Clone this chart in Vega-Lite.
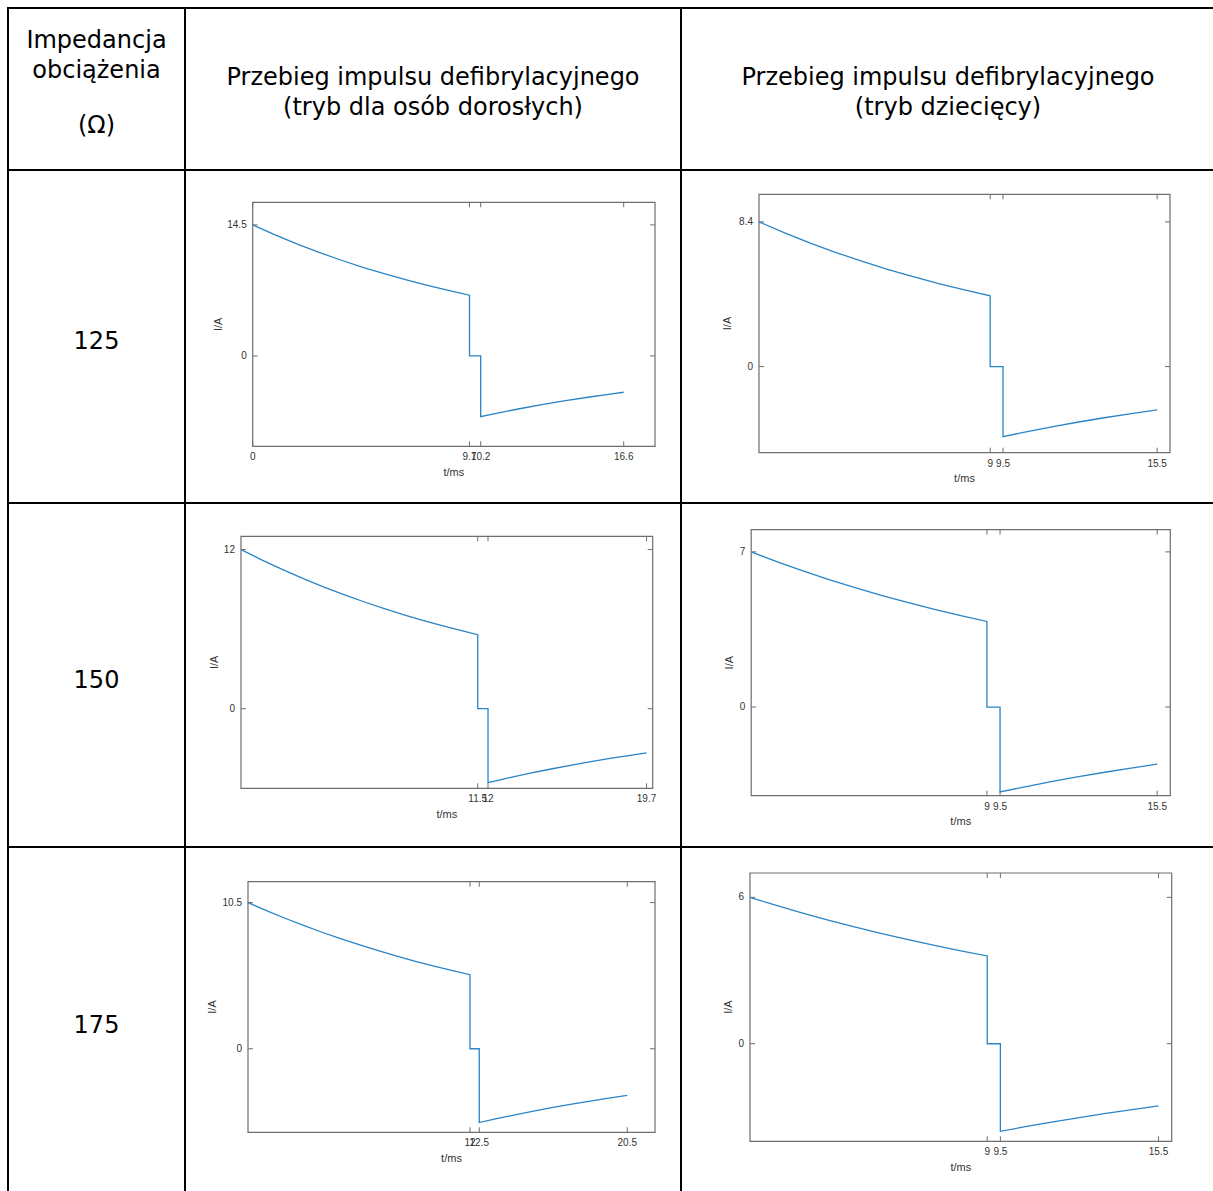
{
  "$schema": "https://vega.github.io/schema/vega-lite/v6.json",
  "padding": {"left": 7, "top": 7, "right": 0, "bottom": 0},
  "background": "white",
  "columns": 3,
  "spacing": 0,
  "bounds": "flush",
  "align": "each",
  "config": {
    "view": {"stroke": "#000000", "strokeWidth": 2},
    "text": {"font": "DejaVu Sans", "color": "#000000"}
  },
  "datasets": {
    "labels": [
      {"id": "h0a", "txt": "Impedancja"},
      {"id": "h0b", "txt": "obciążenia"},
      {"id": "h0c", "txt": "(Ω)"},
      {"id": "h1a", "txt": "Przebieg impulsu defibrylacyjnego"},
      {"id": "h1b", "txt": "(tryb dla osób dorosłych)"},
      {"id": "h2a", "txt": "Przebieg impulsu defibrylacyjnego"},
      {"id": "h2b", "txt": "(tryb dziecięcy)"},
      {"id": "r1", "txt": "125"},
      {"id": "r2", "txt": "150"},
      {"id": "r3", "txt": "175"},
      {"id": "xt", "txt": "t/ms"},
      {"id": "yt", "txt": "I/A"}
    ],
    "frames": [
      {"c": "a125", "x0": 0, "x1": 18, "y0": -10, "y1": 17},
      {"c": "d125", "x0": 0, "x1": 16, "y0": -5, "y1": 10},
      {"c": "a150", "x0": 0, "x1": 20, "y0": -6, "y1": 13},
      {"c": "d150", "x0": 0, "x1": 16, "y0": -4, "y1": 8},
      {"c": "a175", "x0": 0, "x1": 22, "y0": -6, "y1": 12},
      {"c": "d175", "x0": 0, "x1": 16, "y0": -4, "y1": 7}
    ],
    "ticks": [
      {"c": "a125", "ax": "x", "v": 0}, {"c": "a125", "ax": "x", "v": 9.7}, {"c": "a125", "ax": "x", "v": 10.2}, {"c": "a125", "ax": "x", "v": 16.6},
      {"c": "a125", "ax": "y", "v": 0}, {"c": "a125", "ax": "y", "v": 14.5},
      {"c": "d125", "ax": "x", "v": 9}, {"c": "d125", "ax": "x", "v": 9.5}, {"c": "d125", "ax": "x", "v": 15.5},
      {"c": "d125", "ax": "y", "v": 0}, {"c": "d125", "ax": "y", "v": 8.4},
      {"c": "a150", "ax": "x", "v": 11.5}, {"c": "a150", "ax": "x", "v": 12}, {"c": "a150", "ax": "x", "v": 19.7},
      {"c": "a150", "ax": "y", "v": 0}, {"c": "a150", "ax": "y", "v": 12},
      {"c": "d150", "ax": "x", "v": 9}, {"c": "d150", "ax": "x", "v": 9.5}, {"c": "d150", "ax": "x", "v": 15.5},
      {"c": "d150", "ax": "y", "v": 0}, {"c": "d150", "ax": "y", "v": 7},
      {"c": "a175", "ax": "x", "v": 12}, {"c": "a175", "ax": "x", "v": 12.5}, {"c": "a175", "ax": "x", "v": 20.5},
      {"c": "a175", "ax": "y", "v": 0}, {"c": "a175", "ax": "y", "v": 10.5},
      {"c": "d175", "ax": "x", "v": 9}, {"c": "d175", "ax": "x", "v": 9.5}, {"c": "d175", "ax": "x", "v": 15.5},
      {"c": "d175", "ax": "y", "v": 0}, {"c": "d175", "ax": "y", "v": 6}
    ],
    "wave": [
      {"c": "a125", "t": 0, "i": 14.5}, {"c": "a125", "t": 1, "i": 13.395}, {"c": "a125", "t": 2, "i": 12.374}, {"c": "a125", "t": 3, "i": 11.431}, {"c": "a125", "t": 4, "i": 10.559}, {"c": "a125", "t": 5, "i": 9.754}, {"c": "a125", "t": 6, "i": 9.011}, {"c": "a125", "t": 7, "i": 8.324}, {"c": "a125", "t": 8, "i": 7.689}, {"c": "a125", "t": 9, "i": 7.103}, {"c": "a125", "t": 9.7, "i": 6.72}, {"c": "a125", "t": 9.7, "i": 0}, {"c": "a125", "t": 10.2, "i": 0}, {"c": "a125", "t": 10.2, "i": -6.72}, {"c": "a125", "t": 11, "i": -6.302}, {"c": "a125", "t": 12, "i": -5.816}, {"c": "a125", "t": 13, "i": -5.367}, {"c": "a125", "t": 14, "i": -4.953}, {"c": "a125", "t": 15, "i": -4.571}, {"c": "a125", "t": 16, "i": -4.218}, {"c": "a125", "t": 16.6, "i": -4.02},
      {"c": "d125", "t": 0, "i": 8.4}, {"c": "d125", "t": 1, "i": 7.759}, {"c": "d125", "t": 2, "i": 7.167}, {"c": "d125", "t": 3, "i": 6.62}, {"c": "d125", "t": 4, "i": 6.115}, {"c": "d125", "t": 5, "i": 5.648}, {"c": "d125", "t": 6, "i": 5.217}, {"c": "d125", "t": 7, "i": 4.819}, {"c": "d125", "t": 8, "i": 4.451}, {"c": "d125", "t": 9, "i": 4.11}, {"c": "d125", "t": 9, "i": 0}, {"c": "d125", "t": 9.5, "i": 0}, {"c": "d125", "t": 9.5, "i": -4.07}, {"c": "d125", "t": 10.5, "i": -3.757}, {"c": "d125", "t": 11.5, "i": -3.469}, {"c": "d125", "t": 12.5, "i": -3.203}, {"c": "d125", "t": 13.5, "i": -2.957}, {"c": "d125", "t": 14.5, "i": -2.73}, {"c": "d125", "t": 15.5, "i": -2.52},
      {"c": "a150", "t": 0, "i": 12}, {"c": "a150", "t": 1, "i": 11.227}, {"c": "a150", "t": 2, "i": 10.504}, {"c": "a150", "t": 3, "i": 9.827}, {"c": "a150", "t": 4, "i": 9.194}, {"c": "a150", "t": 5, "i": 8.602}, {"c": "a150", "t": 6, "i": 8.047}, {"c": "a150", "t": 7, "i": 7.529}, {"c": "a150", "t": 8, "i": 7.044}, {"c": "a150", "t": 9, "i": 6.59}, {"c": "a150", "t": 10, "i": 6.165}, {"c": "a150", "t": 11, "i": 5.768}, {"c": "a150", "t": 11.5, "i": 5.58}, {"c": "a150", "t": 11.5, "i": 0}, {"c": "a150", "t": 12, "i": 0}, {"c": "a150", "t": 12, "i": -5.58}, {"c": "a150", "t": 13, "i": -5.218}, {"c": "a150", "t": 14, "i": -4.88}, {"c": "a150", "t": 15, "i": -4.564}, {"c": "a150", "t": 16, "i": -4.268}, {"c": "a150", "t": 17, "i": -3.992}, {"c": "a150", "t": 18, "i": -3.733}, {"c": "a150", "t": 19, "i": -3.491}, {"c": "a150", "t": 19.7, "i": -3.33},
      {"c": "d150", "t": 0, "i": 7}, {"c": "d150", "t": 1, "i": 6.552}, {"c": "d150", "t": 2, "i": 6.133}, {"c": "d150", "t": 3, "i": 5.741}, {"c": "d150", "t": 4, "i": 5.374}, {"c": "d150", "t": 5, "i": 5.03}, {"c": "d150", "t": 6, "i": 4.709}, {"c": "d150", "t": 7, "i": 4.407}, {"c": "d150", "t": 8, "i": 4.126}, {"c": "d150", "t": 9, "i": 3.86}, {"c": "d150", "t": 9, "i": 0}, {"c": "d150", "t": 9.5, "i": 0}, {"c": "d150", "t": 9.5, "i": -3.83}, {"c": "d150", "t": 10.5, "i": -3.586}, {"c": "d150", "t": 11.5, "i": -3.357}, {"c": "d150", "t": 12.5, "i": -3.143}, {"c": "d150", "t": 13.5, "i": -2.942}, {"c": "d150", "t": 14.5, "i": -2.755}, {"c": "d150", "t": 15.5, "i": -2.58},
      {"c": "a175", "t": 0, "i": 10.5}, {"c": "a175", "t": 1, "i": 9.921}, {"c": "a175", "t": 2, "i": 9.374}, {"c": "a175", "t": 3, "i": 8.858}, {"c": "a175", "t": 4, "i": 8.369}, {"c": "a175", "t": 5, "i": 7.908}, {"c": "a175", "t": 6, "i": 7.472}, {"c": "a175", "t": 7, "i": 7.06}, {"c": "a175", "t": 8, "i": 6.671}, {"c": "a175", "t": 9, "i": 6.303}, {"c": "a175", "t": 10, "i": 5.956}, {"c": "a175", "t": 11, "i": 5.628}, {"c": "a175", "t": 12, "i": 5.32}, {"c": "a175", "t": 12, "i": 0}, {"c": "a175", "t": 12.5, "i": 0}, {"c": "a175", "t": 12.5, "i": -5.3}, {"c": "a175", "t": 13.5, "i": -5.005}, {"c": "a175", "t": 14.5, "i": -4.726}, {"c": "a175", "t": 15.5, "i": -4.463}, {"c": "a175", "t": 16.5, "i": -4.215}, {"c": "a175", "t": 17.5, "i": -3.98}, {"c": "a175", "t": 18.5, "i": -3.758}, {"c": "a175", "t": 19.5, "i": -3.549}, {"c": "a175", "t": 20.5, "i": -3.35},
      {"c": "d175", "t": 0, "i": 6}, {"c": "d175", "t": 1, "i": 5.669}, {"c": "d175", "t": 2, "i": 5.356}, {"c": "d175", "t": 3, "i": 5.06}, {"c": "d175", "t": 4, "i": 4.78}, {"c": "d175", "t": 5, "i": 4.516}, {"c": "d175", "t": 6, "i": 4.267}, {"c": "d175", "t": 7, "i": 4.031}, {"c": "d175", "t": 8, "i": 3.809}, {"c": "d175", "t": 9, "i": 3.6}, {"c": "d175", "t": 9, "i": 0}, {"c": "d175", "t": 9.5, "i": 0}, {"c": "d175", "t": 9.5, "i": -3.59}, {"c": "d175", "t": 10.5, "i": -3.391}, {"c": "d175", "t": 11.5, "i": -3.203}, {"c": "d175", "t": 12.5, "i": -3.026}, {"c": "d175", "t": 13.5, "i": -2.858}, {"c": "d175", "t": 14.5, "i": -2.7}, {"c": "d175", "t": 15.5, "i": -2.55}
    ]
  },
  "concat": [
    {
      "width": 177, "height": 162,
      "data": {"name": "labels"},
      "encoding": {
        "x": {"datum": 0, "type": "quantitative", "scale": {"domain": [-1, 1]}, "axis": null},
        "y": {"datum": 0, "type": "quantitative", "scale": {"domain": [-1, 1]}, "axis": null}
      },
      "layer": [
        {"transform": [{"filter": "datum.id == 'h0a'"}], "mark": {"type": "text", "fontSize": 24, "baseline": "alphabetic", "dy": -41}, "encoding": {"text": {"field": "txt"}}},
        {"transform": [{"filter": "datum.id == 'h0b'"}], "mark": {"type": "text", "fontSize": 24, "baseline": "alphabetic", "dy": -11.5}, "encoding": {"text": {"field": "txt"}}},
        {"transform": [{"filter": "datum.id == 'h0c'"}], "mark": {"type": "text", "fontSize": 24, "baseline": "alphabetic", "dy": 44}, "encoding": {"text": {"field": "txt"}}}
      ]
    },
    {
      "width": 496, "height": 162,
      "data": {"name": "labels"},
      "encoding": {
        "x": {"datum": 0, "type": "quantitative", "scale": {"domain": [-1, 1]}, "axis": null},
        "y": {"datum": 0, "type": "quantitative", "scale": {"domain": [-1, 1]}, "axis": null}
      },
      "layer": [
        {"transform": [{"filter": "datum.id == 'h1a'"}], "mark": {"type": "text", "fontSize": 24, "baseline": "alphabetic", "dy": -4.5}, "encoding": {"text": {"field": "txt"}}},
        {"transform": [{"filter": "datum.id == 'h1b'"}], "mark": {"type": "text", "fontSize": 24, "baseline": "alphabetic", "dy": 26}, "encoding": {"text": {"field": "txt"}}}
      ]
    },
    {
      "width": 534, "height": 162,
      "data": {"name": "labels"},
      "encoding": {
        "x": {"datum": 0, "type": "quantitative", "scale": {"domain": [-1, 1]}, "axis": null},
        "y": {"datum": 0, "type": "quantitative", "scale": {"domain": [-1, 1]}, "axis": null}
      },
      "layer": [
        {"transform": [{"filter": "datum.id == 'h2a'"}], "mark": {"type": "text", "fontSize": 24, "baseline": "alphabetic", "dy": -4.5}, "encoding": {"text": {"field": "txt"}}},
        {"transform": [{"filter": "datum.id == 'h2b'"}], "mark": {"type": "text", "fontSize": 24, "baseline": "alphabetic", "dy": 26}, "encoding": {"text": {"field": "txt"}}}
      ]
    },
    {
      "width": 177, "height": 333,
      "data": {"name": "labels"},
      "transform": [{"filter": "datum.id == 'r1'"}],
      "mark": {"type": "text", "fontSize": 24, "baseline": "alphabetic", "dy": 12.5},
      "encoding": {
        "x": {"datum": 0, "type": "quantitative", "scale": {"domain": [-1, 1]}, "axis": null},
        "y": {"datum": 0, "type": "quantitative", "scale": {"domain": [-1, 1]}, "axis": null},
        "text": {"field": "txt"}
      }
    },
    {
      "width": 496, "height": 333,
      "layer": [
        {"data": {"name": "frames"}, "transform": [{"filter": "datum.c == 'a125'"}], "mark": {"type": "rect", "filled": false, "stroke": "#6e6e6e", "strokeWidth": 1.2}, "encoding": {"x": {"field": "x0", "type": "quantitative", "scale": {"domain": [-3.029, 19.163], "nice": false, "zero": false}, "axis": null}, "x2": {"field": "x1"}, "y": {"field": "y0", "type": "quantitative", "scale": {"domain": [-16.274, 20.574], "nice": false, "zero": false}, "axis": null}, "y2": {"field": "y1"}}},
        {"data": {"name": "ticks"}, "transform": [{"filter": "datum.c == 'a125' && datum.ax == 'x'"}], "mark": {"type": "rule", "stroke": "#6e6e6e", "y2Offset": -5}, "encoding": {"x": {"field": "v", "type": "quantitative", "scale": {"domain": [-3.029, 19.163], "nice": false, "zero": false}, "axis": null}, "y": {"datum": -10, "type": "quantitative", "scale": {"domain": [-16.274, 20.574], "nice": false, "zero": false}, "axis": null}, "y2": {"datum": -10}}},
        {"data": {"name": "ticks"}, "transform": [{"filter": "datum.c == 'a125' && datum.ax == 'x'"}], "mark": {"type": "rule", "stroke": "#6e6e6e", "y2Offset": 5}, "encoding": {"x": {"field": "v", "type": "quantitative", "scale": {"domain": [-3.029, 19.163], "nice": false, "zero": false}, "axis": null}, "y": {"datum": 17, "type": "quantitative", "scale": {"domain": [-16.274, 20.574], "nice": false, "zero": false}, "axis": null}, "y2": {"datum": 17}}},
        {"data": {"name": "ticks"}, "transform": [{"filter": "datum.c == 'a125' && datum.ax == 'y'"}], "mark": {"type": "rule", "stroke": "#6e6e6e", "x2Offset": 5}, "encoding": {"y": {"field": "v", "type": "quantitative", "scale": {"domain": [-16.274, 20.574], "nice": false, "zero": false}, "axis": null}, "x": {"datum": 0, "type": "quantitative", "scale": {"domain": [-3.029, 19.163], "nice": false, "zero": false}, "axis": null}, "x2": {"datum": 0}}},
        {"data": {"name": "ticks"}, "transform": [{"filter": "datum.c == 'a125' && datum.ax == 'y'"}], "mark": {"type": "rule", "stroke": "#6e6e6e", "x2Offset": -5}, "encoding": {"y": {"field": "v", "type": "quantitative", "scale": {"domain": [-16.274, 20.574], "nice": false, "zero": false}, "axis": null}, "x": {"datum": 18, "type": "quantitative", "scale": {"domain": [-3.029, 19.163], "nice": false, "zero": false}, "axis": null}, "x2": {"datum": 18}}},
        {"data": {"name": "ticks"}, "transform": [{"filter": "datum.c == 'a125' && datum.ax == 'x'"}], "mark": {"type": "text", "font": "Liberation Sans", "fontSize": 10, "color": "#333333", "baseline": "middle", "yOffset": 11}, "encoding": {"x": {"field": "v", "type": "quantitative", "scale": {"domain": [-3.029, 19.163], "nice": false, "zero": false}, "axis": null}, "y": {"datum": -10, "type": "quantitative", "scale": {"domain": [-16.274, 20.574], "nice": false, "zero": false}, "axis": null}, "text": {"field": "v", "type": "quantitative", "format": "~g"}}},
        {"data": {"name": "ticks"}, "transform": [{"filter": "datum.c == 'a125' && datum.ax == 'y'"}], "mark": {"type": "text", "font": "Liberation Sans", "fontSize": 10, "color": "#333333", "baseline": "middle", "align": "right", "xOffset": -6}, "encoding": {"y": {"field": "v", "type": "quantitative", "scale": {"domain": [-16.274, 20.574], "nice": false, "zero": false}, "axis": null}, "x": {"datum": 0, "type": "quantitative", "scale": {"domain": [-3.029, 19.163], "nice": false, "zero": false}, "axis": null}, "text": {"field": "v", "type": "quantitative", "format": "~g"}}},
        {"data": {"name": "wave"}, "transform": [{"filter": "datum.c == 'a125'"}], "mark": {"type": "line", "color": "#2a84c6", "strokeWidth": 1.3}, "encoding": {"x": {"field": "t", "type": "quantitative", "scale": {"domain": [-3.029, 19.163], "nice": false, "zero": false}, "axis": null}, "y": {"field": "i", "type": "quantitative", "scale": {"domain": [-16.274, 20.574], "nice": false, "zero": false}, "axis": null}, "order": {"value": null}}},
        {"data": {"name": "labels"}, "transform": [{"filter": "datum.id == 'xt'"}], "mark": {"type": "text", "font": "Liberation Sans", "fontSize": 11, "color": "#333333", "baseline": "middle", "yOffset": 26.5}, "encoding": {"x": {"datum": 9, "type": "quantitative", "scale": {"domain": [-3.029, 19.163], "nice": false, "zero": false}, "axis": null}, "y": {"datum": -10, "type": "quantitative", "scale": {"domain": [-16.274, 20.574], "nice": false, "zero": false}, "axis": null}, "text": {"field": "txt"}}},
        {"data": {"name": "labels"}, "transform": [{"filter": "datum.id == 'yt'"}], "mark": {"type": "text", "font": "Liberation Sans", "fontSize": 11, "color": "#333333", "baseline": "middle", "angle": 270, "xOffset": -34}, "encoding": {"x": {"datum": 0, "type": "quantitative", "scale": {"domain": [-3.029, 19.163], "nice": false, "zero": false}, "axis": null}, "y": {"datum": 3.5, "type": "quantitative", "scale": {"domain": [-16.274, 20.574], "nice": false, "zero": false}, "axis": null}, "text": {"field": "txt"}}}
      ]
    },
    {
      "width": 534, "height": 333,
      "layer": [
        {"data": {"name": "frames"}, "transform": [{"filter": "datum.c == 'd125'"}], "mark": {"type": "rect", "filled": false, "stroke": "#6e6e6e", "strokeWidth": 1.2}, "encoding": {"x": {"field": "x0", "type": "quantitative", "scale": {"domain": [-3.036, 17.752], "nice": false, "zero": false}, "axis": null}, "x2": {"field": "x1"}, "y": {"field": "y0", "type": "quantitative", "scale": {"domain": [-7.92, 11.411], "nice": false, "zero": false}, "axis": null}, "y2": {"field": "y1"}}},
        {"data": {"name": "ticks"}, "transform": [{"filter": "datum.c == 'd125' && datum.ax == 'x'"}], "mark": {"type": "rule", "stroke": "#6e6e6e", "y2Offset": -5}, "encoding": {"x": {"field": "v", "type": "quantitative", "scale": {"domain": [-3.036, 17.752], "nice": false, "zero": false}, "axis": null}, "y": {"datum": -5, "type": "quantitative", "scale": {"domain": [-7.92, 11.411], "nice": false, "zero": false}, "axis": null}, "y2": {"datum": -5}}},
        {"data": {"name": "ticks"}, "transform": [{"filter": "datum.c == 'd125' && datum.ax == 'x'"}], "mark": {"type": "rule", "stroke": "#6e6e6e", "y2Offset": 5}, "encoding": {"x": {"field": "v", "type": "quantitative", "scale": {"domain": [-3.036, 17.752], "nice": false, "zero": false}, "axis": null}, "y": {"datum": 10, "type": "quantitative", "scale": {"domain": [-7.92, 11.411], "nice": false, "zero": false}, "axis": null}, "y2": {"datum": 10}}},
        {"data": {"name": "ticks"}, "transform": [{"filter": "datum.c == 'd125' && datum.ax == 'y'"}], "mark": {"type": "rule", "stroke": "#6e6e6e", "x2Offset": 5}, "encoding": {"y": {"field": "v", "type": "quantitative", "scale": {"domain": [-7.92, 11.411], "nice": false, "zero": false}, "axis": null}, "x": {"datum": 0, "type": "quantitative", "scale": {"domain": [-3.036, 17.752], "nice": false, "zero": false}, "axis": null}, "x2": {"datum": 0}}},
        {"data": {"name": "ticks"}, "transform": [{"filter": "datum.c == 'd125' && datum.ax == 'y'"}], "mark": {"type": "rule", "stroke": "#6e6e6e", "x2Offset": -5}, "encoding": {"y": {"field": "v", "type": "quantitative", "scale": {"domain": [-7.92, 11.411], "nice": false, "zero": false}, "axis": null}, "x": {"datum": 16, "type": "quantitative", "scale": {"domain": [-3.036, 17.752], "nice": false, "zero": false}, "axis": null}, "x2": {"datum": 16}}},
        {"data": {"name": "ticks"}, "transform": [{"filter": "datum.c == 'd125' && datum.ax == 'x'"}], "mark": {"type": "text", "font": "Liberation Sans", "fontSize": 10, "color": "#333333", "baseline": "middle", "yOffset": 11}, "encoding": {"x": {"field": "v", "type": "quantitative", "scale": {"domain": [-3.036, 17.752], "nice": false, "zero": false}, "axis": null}, "y": {"datum": -5, "type": "quantitative", "scale": {"domain": [-7.92, 11.411], "nice": false, "zero": false}, "axis": null}, "text": {"field": "v", "type": "quantitative", "format": "~g"}}},
        {"data": {"name": "ticks"}, "transform": [{"filter": "datum.c == 'd125' && datum.ax == 'y'"}], "mark": {"type": "text", "font": "Liberation Sans", "fontSize": 10, "color": "#333333", "baseline": "middle", "align": "right", "xOffset": -6}, "encoding": {"y": {"field": "v", "type": "quantitative", "scale": {"domain": [-7.92, 11.411], "nice": false, "zero": false}, "axis": null}, "x": {"datum": 0, "type": "quantitative", "scale": {"domain": [-3.036, 17.752], "nice": false, "zero": false}, "axis": null}, "text": {"field": "v", "type": "quantitative", "format": "~g"}}},
        {"data": {"name": "wave"}, "transform": [{"filter": "datum.c == 'd125'"}], "mark": {"type": "line", "color": "#2a84c6", "strokeWidth": 1.3}, "encoding": {"x": {"field": "t", "type": "quantitative", "scale": {"domain": [-3.036, 17.752], "nice": false, "zero": false}, "axis": null}, "y": {"field": "i", "type": "quantitative", "scale": {"domain": [-7.92, 11.411], "nice": false, "zero": false}, "axis": null}, "order": {"value": null}}},
        {"data": {"name": "labels"}, "transform": [{"filter": "datum.id == 'xt'"}], "mark": {"type": "text", "font": "Liberation Sans", "fontSize": 11, "color": "#333333", "baseline": "middle", "yOffset": 26.5}, "encoding": {"x": {"datum": 8, "type": "quantitative", "scale": {"domain": [-3.036, 17.752], "nice": false, "zero": false}, "axis": null}, "y": {"datum": -5, "type": "quantitative", "scale": {"domain": [-7.92, 11.411], "nice": false, "zero": false}, "axis": null}, "text": {"field": "txt"}}},
        {"data": {"name": "labels"}, "transform": [{"filter": "datum.id == 'yt'"}], "mark": {"type": "text", "font": "Liberation Sans", "fontSize": 11, "color": "#333333", "baseline": "middle", "angle": 270, "xOffset": -31}, "encoding": {"x": {"datum": 0, "type": "quantitative", "scale": {"domain": [-3.036, 17.752], "nice": false, "zero": false}, "axis": null}, "y": {"datum": 2.5, "type": "quantitative", "scale": {"domain": [-7.92, 11.411], "nice": false, "zero": false}, "axis": null}, "text": {"field": "txt"}}}
      ]
    },
    {
      "width": 177, "height": 344,
      "data": {"name": "labels"},
      "transform": [{"filter": "datum.id == 'r2'"}],
      "mark": {"type": "text", "fontSize": 24, "baseline": "alphabetic", "dy": 13},
      "encoding": {
        "x": {"datum": 0, "type": "quantitative", "scale": {"domain": [-1, 1]}, "axis": null},
        "y": {"datum": 0, "type": "quantitative", "scale": {"domain": [-1, 1]}, "axis": null},
        "text": {"field": "txt"}
      }
    },
    {
      "width": 496, "height": 344,
      "layer": [
        {"data": {"name": "frames"}, "transform": [{"filter": "datum.c == 'a150'"}], "mark": {"type": "rect", "filled": false, "stroke": "#6e6e6e", "strokeWidth": 1.2}, "encoding": {"x": {"field": "x0", "type": "quantitative", "scale": {"domain": [-2.72, 21.375], "nice": false, "zero": false}, "axis": null}, "x2": {"field": "x1"}, "y": {"field": "y0", "type": "quantitative", "scale": {"domain": [-10.426, 15.511], "nice": false, "zero": false}, "axis": null}, "y2": {"field": "y1"}}},
        {"data": {"name": "ticks"}, "transform": [{"filter": "datum.c == 'a150' && datum.ax == 'x'"}], "mark": {"type": "rule", "stroke": "#6e6e6e", "y2Offset": -5}, "encoding": {"x": {"field": "v", "type": "quantitative", "scale": {"domain": [-2.72, 21.375], "nice": false, "zero": false}, "axis": null}, "y": {"datum": -6, "type": "quantitative", "scale": {"domain": [-10.426, 15.511], "nice": false, "zero": false}, "axis": null}, "y2": {"datum": -6}}},
        {"data": {"name": "ticks"}, "transform": [{"filter": "datum.c == 'a150' && datum.ax == 'x'"}], "mark": {"type": "rule", "stroke": "#6e6e6e", "y2Offset": 5}, "encoding": {"x": {"field": "v", "type": "quantitative", "scale": {"domain": [-2.72, 21.375], "nice": false, "zero": false}, "axis": null}, "y": {"datum": 13, "type": "quantitative", "scale": {"domain": [-10.426, 15.511], "nice": false, "zero": false}, "axis": null}, "y2": {"datum": 13}}},
        {"data": {"name": "ticks"}, "transform": [{"filter": "datum.c == 'a150' && datum.ax == 'y'"}], "mark": {"type": "rule", "stroke": "#6e6e6e", "x2Offset": 5}, "encoding": {"y": {"field": "v", "type": "quantitative", "scale": {"domain": [-10.426, 15.511], "nice": false, "zero": false}, "axis": null}, "x": {"datum": 0, "type": "quantitative", "scale": {"domain": [-2.72, 21.375], "nice": false, "zero": false}, "axis": null}, "x2": {"datum": 0}}},
        {"data": {"name": "ticks"}, "transform": [{"filter": "datum.c == 'a150' && datum.ax == 'y'"}], "mark": {"type": "rule", "stroke": "#6e6e6e", "x2Offset": -5}, "encoding": {"y": {"field": "v", "type": "quantitative", "scale": {"domain": [-10.426, 15.511], "nice": false, "zero": false}, "axis": null}, "x": {"datum": 20, "type": "quantitative", "scale": {"domain": [-2.72, 21.375], "nice": false, "zero": false}, "axis": null}, "x2": {"datum": 20}}},
        {"data": {"name": "ticks"}, "transform": [{"filter": "datum.c == 'a150' && datum.ax == 'x'"}], "mark": {"type": "text", "font": "Liberation Sans", "fontSize": 10, "color": "#333333", "baseline": "middle", "yOffset": 11}, "encoding": {"x": {"field": "v", "type": "quantitative", "scale": {"domain": [-2.72, 21.375], "nice": false, "zero": false}, "axis": null}, "y": {"datum": -6, "type": "quantitative", "scale": {"domain": [-10.426, 15.511], "nice": false, "zero": false}, "axis": null}, "text": {"field": "v", "type": "quantitative", "format": "~g"}}},
        {"data": {"name": "ticks"}, "transform": [{"filter": "datum.c == 'a150' && datum.ax == 'y'"}], "mark": {"type": "text", "font": "Liberation Sans", "fontSize": 10, "color": "#333333", "baseline": "middle", "align": "right", "xOffset": -6}, "encoding": {"y": {"field": "v", "type": "quantitative", "scale": {"domain": [-10.426, 15.511], "nice": false, "zero": false}, "axis": null}, "x": {"datum": 0, "type": "quantitative", "scale": {"domain": [-2.72, 21.375], "nice": false, "zero": false}, "axis": null}, "text": {"field": "v", "type": "quantitative", "format": "~g"}}},
        {"data": {"name": "wave"}, "transform": [{"filter": "datum.c == 'a150'"}], "mark": {"type": "line", "color": "#2a84c6", "strokeWidth": 1.3}, "encoding": {"x": {"field": "t", "type": "quantitative", "scale": {"domain": [-2.72, 21.375], "nice": false, "zero": false}, "axis": null}, "y": {"field": "i", "type": "quantitative", "scale": {"domain": [-10.426, 15.511], "nice": false, "zero": false}, "axis": null}, "order": {"value": null}}},
        {"data": {"name": "labels"}, "transform": [{"filter": "datum.id == 'xt'"}], "mark": {"type": "text", "font": "Liberation Sans", "fontSize": 11, "color": "#333333", "baseline": "middle", "yOffset": 26.5}, "encoding": {"x": {"datum": 10, "type": "quantitative", "scale": {"domain": [-2.72, 21.375], "nice": false, "zero": false}, "axis": null}, "y": {"datum": -6, "type": "quantitative", "scale": {"domain": [-10.426, 15.511], "nice": false, "zero": false}, "axis": null}, "text": {"field": "txt"}}},
        {"data": {"name": "labels"}, "transform": [{"filter": "datum.id == 'yt'"}], "mark": {"type": "text", "font": "Liberation Sans", "fontSize": 11, "color": "#333333", "baseline": "middle", "angle": 270, "xOffset": -26}, "encoding": {"x": {"datum": 0, "type": "quantitative", "scale": {"domain": [-2.72, 21.375], "nice": false, "zero": false}, "axis": null}, "y": {"datum": 3.5, "type": "quantitative", "scale": {"domain": [-10.426, 15.511], "nice": false, "zero": false}, "axis": null}, "text": {"field": "txt"}}}
      ]
    },
    {
      "width": 534, "height": 344,
      "layer": [
        {"data": {"name": "frames"}, "transform": [{"filter": "datum.c == 'd150'"}], "mark": {"type": "rect", "filled": false, "stroke": "#6e6e6e", "strokeWidth": 1.2}, "encoding": {"x": {"field": "x0", "type": "quantitative", "scale": {"domain": [-2.68, 17.706], "nice": false, "zero": false}, "axis": null}, "x2": {"field": "x1"}, "y": {"field": "y0", "type": "quantitative", "scale": {"domain": [-6.314, 9.205], "nice": false, "zero": false}, "axis": null}, "y2": {"field": "y1"}}},
        {"data": {"name": "ticks"}, "transform": [{"filter": "datum.c == 'd150' && datum.ax == 'x'"}], "mark": {"type": "rule", "stroke": "#6e6e6e", "y2Offset": -5}, "encoding": {"x": {"field": "v", "type": "quantitative", "scale": {"domain": [-2.68, 17.706], "nice": false, "zero": false}, "axis": null}, "y": {"datum": -4, "type": "quantitative", "scale": {"domain": [-6.314, 9.205], "nice": false, "zero": false}, "axis": null}, "y2": {"datum": -4}}},
        {"data": {"name": "ticks"}, "transform": [{"filter": "datum.c == 'd150' && datum.ax == 'x'"}], "mark": {"type": "rule", "stroke": "#6e6e6e", "y2Offset": 5}, "encoding": {"x": {"field": "v", "type": "quantitative", "scale": {"domain": [-2.68, 17.706], "nice": false, "zero": false}, "axis": null}, "y": {"datum": 8, "type": "quantitative", "scale": {"domain": [-6.314, 9.205], "nice": false, "zero": false}, "axis": null}, "y2": {"datum": 8}}},
        {"data": {"name": "ticks"}, "transform": [{"filter": "datum.c == 'd150' && datum.ax == 'y'"}], "mark": {"type": "rule", "stroke": "#6e6e6e", "x2Offset": 5}, "encoding": {"y": {"field": "v", "type": "quantitative", "scale": {"domain": [-6.314, 9.205], "nice": false, "zero": false}, "axis": null}, "x": {"datum": 0, "type": "quantitative", "scale": {"domain": [-2.68, 17.706], "nice": false, "zero": false}, "axis": null}, "x2": {"datum": 0}}},
        {"data": {"name": "ticks"}, "transform": [{"filter": "datum.c == 'd150' && datum.ax == 'y'"}], "mark": {"type": "rule", "stroke": "#6e6e6e", "x2Offset": -5}, "encoding": {"y": {"field": "v", "type": "quantitative", "scale": {"domain": [-6.314, 9.205], "nice": false, "zero": false}, "axis": null}, "x": {"datum": 16, "type": "quantitative", "scale": {"domain": [-2.68, 17.706], "nice": false, "zero": false}, "axis": null}, "x2": {"datum": 16}}},
        {"data": {"name": "ticks"}, "transform": [{"filter": "datum.c == 'd150' && datum.ax == 'x'"}], "mark": {"type": "text", "font": "Liberation Sans", "fontSize": 10, "color": "#333333", "baseline": "middle", "yOffset": 11}, "encoding": {"x": {"field": "v", "type": "quantitative", "scale": {"domain": [-2.68, 17.706], "nice": false, "zero": false}, "axis": null}, "y": {"datum": -4, "type": "quantitative", "scale": {"domain": [-6.314, 9.205], "nice": false, "zero": false}, "axis": null}, "text": {"field": "v", "type": "quantitative", "format": "~g"}}},
        {"data": {"name": "ticks"}, "transform": [{"filter": "datum.c == 'd150' && datum.ax == 'y'"}], "mark": {"type": "text", "font": "Liberation Sans", "fontSize": 10, "color": "#333333", "baseline": "middle", "align": "right", "xOffset": -6}, "encoding": {"y": {"field": "v", "type": "quantitative", "scale": {"domain": [-6.314, 9.205], "nice": false, "zero": false}, "axis": null}, "x": {"datum": 0, "type": "quantitative", "scale": {"domain": [-2.68, 17.706], "nice": false, "zero": false}, "axis": null}, "text": {"field": "v", "type": "quantitative", "format": "~g"}}},
        {"data": {"name": "wave"}, "transform": [{"filter": "datum.c == 'd150'"}], "mark": {"type": "line", "color": "#2a84c6", "strokeWidth": 1.3}, "encoding": {"x": {"field": "t", "type": "quantitative", "scale": {"domain": [-2.68, 17.706], "nice": false, "zero": false}, "axis": null}, "y": {"field": "i", "type": "quantitative", "scale": {"domain": [-6.314, 9.205], "nice": false, "zero": false}, "axis": null}, "order": {"value": null}}},
        {"data": {"name": "labels"}, "transform": [{"filter": "datum.id == 'xt'"}], "mark": {"type": "text", "font": "Liberation Sans", "fontSize": 11, "color": "#333333", "baseline": "middle", "yOffset": 26.5}, "encoding": {"x": {"datum": 8, "type": "quantitative", "scale": {"domain": [-2.68, 17.706], "nice": false, "zero": false}, "axis": null}, "y": {"datum": -4, "type": "quantitative", "scale": {"domain": [-6.314, 9.205], "nice": false, "zero": false}, "axis": null}, "text": {"field": "txt"}}},
        {"data": {"name": "labels"}, "transform": [{"filter": "datum.id == 'yt'"}], "mark": {"type": "text", "font": "Liberation Sans", "fontSize": 11, "color": "#333333", "baseline": "middle", "angle": 270, "xOffset": -21}, "encoding": {"x": {"datum": 0, "type": "quantitative", "scale": {"domain": [-2.68, 17.706], "nice": false, "zero": false}, "axis": null}, "y": {"datum": 2, "type": "quantitative", "scale": {"domain": [-6.314, 9.205], "nice": false, "zero": false}, "axis": null}, "text": {"field": "txt"}}}
      ]
    },
    {
      "width": 177, "height": 346,
      "data": {"name": "labels"},
      "transform": [{"filter": "datum.id == 'r3'"}],
      "mark": {"type": "text", "fontSize": 24, "baseline": "alphabetic", "dy": 12.5},
      "encoding": {
        "x": {"datum": 0, "type": "quantitative", "scale": {"domain": [-1, 1]}, "axis": null},
        "y": {"datum": 0, "type": "quantitative", "scale": {"domain": [-1, 1]}, "axis": null},
        "text": {"field": "txt"}
      }
    },
    {
      "width": 496, "height": 346,
      "layer": [
        {"data": {"name": "frames"}, "transform": [{"filter": "datum.c == 'a175'"}], "mark": {"type": "rect", "filled": false, "stroke": "#6e6e6e", "strokeWidth": 1.2}, "encoding": {"x": {"field": "x0", "type": "quantitative", "scale": {"domain": [-3.405, 23.405], "nice": false, "zero": false}, "axis": null}, "x2": {"field": "x1"}, "y": {"field": "y0", "type": "quantitative", "scale": {"domain": [-10.36, 14.492], "nice": false, "zero": false}, "axis": null}, "y2": {"field": "y1"}}},
        {"data": {"name": "ticks"}, "transform": [{"filter": "datum.c == 'a175' && datum.ax == 'x'"}], "mark": {"type": "rule", "stroke": "#6e6e6e", "y2Offset": -5}, "encoding": {"x": {"field": "v", "type": "quantitative", "scale": {"domain": [-3.405, 23.405], "nice": false, "zero": false}, "axis": null}, "y": {"datum": -6, "type": "quantitative", "scale": {"domain": [-10.36, 14.492], "nice": false, "zero": false}, "axis": null}, "y2": {"datum": -6}}},
        {"data": {"name": "ticks"}, "transform": [{"filter": "datum.c == 'a175' && datum.ax == 'x'"}], "mark": {"type": "rule", "stroke": "#6e6e6e", "y2Offset": 5}, "encoding": {"x": {"field": "v", "type": "quantitative", "scale": {"domain": [-3.405, 23.405], "nice": false, "zero": false}, "axis": null}, "y": {"datum": 12, "type": "quantitative", "scale": {"domain": [-10.36, 14.492], "nice": false, "zero": false}, "axis": null}, "y2": {"datum": 12}}},
        {"data": {"name": "ticks"}, "transform": [{"filter": "datum.c == 'a175' && datum.ax == 'y'"}], "mark": {"type": "rule", "stroke": "#6e6e6e", "x2Offset": 5}, "encoding": {"y": {"field": "v", "type": "quantitative", "scale": {"domain": [-10.36, 14.492], "nice": false, "zero": false}, "axis": null}, "x": {"datum": 0, "type": "quantitative", "scale": {"domain": [-3.405, 23.405], "nice": false, "zero": false}, "axis": null}, "x2": {"datum": 0}}},
        {"data": {"name": "ticks"}, "transform": [{"filter": "datum.c == 'a175' && datum.ax == 'y'"}], "mark": {"type": "rule", "stroke": "#6e6e6e", "x2Offset": -5}, "encoding": {"y": {"field": "v", "type": "quantitative", "scale": {"domain": [-10.36, 14.492], "nice": false, "zero": false}, "axis": null}, "x": {"datum": 22, "type": "quantitative", "scale": {"domain": [-3.405, 23.405], "nice": false, "zero": false}, "axis": null}, "x2": {"datum": 22}}},
        {"data": {"name": "ticks"}, "transform": [{"filter": "datum.c == 'a175' && datum.ax == 'x'"}], "mark": {"type": "text", "font": "Liberation Sans", "fontSize": 10, "color": "#333333", "baseline": "middle", "yOffset": 11}, "encoding": {"x": {"field": "v", "type": "quantitative", "scale": {"domain": [-3.405, 23.405], "nice": false, "zero": false}, "axis": null}, "y": {"datum": -6, "type": "quantitative", "scale": {"domain": [-10.36, 14.492], "nice": false, "zero": false}, "axis": null}, "text": {"field": "v", "type": "quantitative", "format": "~g"}}},
        {"data": {"name": "ticks"}, "transform": [{"filter": "datum.c == 'a175' && datum.ax == 'y'"}], "mark": {"type": "text", "font": "Liberation Sans", "fontSize": 10, "color": "#333333", "baseline": "middle", "align": "right", "xOffset": -6}, "encoding": {"y": {"field": "v", "type": "quantitative", "scale": {"domain": [-10.36, 14.492], "nice": false, "zero": false}, "axis": null}, "x": {"datum": 0, "type": "quantitative", "scale": {"domain": [-3.405, 23.405], "nice": false, "zero": false}, "axis": null}, "text": {"field": "v", "type": "quantitative", "format": "~g"}}},
        {"data": {"name": "wave"}, "transform": [{"filter": "datum.c == 'a175'"}], "mark": {"type": "line", "color": "#2a84c6", "strokeWidth": 1.3}, "encoding": {"x": {"field": "t", "type": "quantitative", "scale": {"domain": [-3.405, 23.405], "nice": false, "zero": false}, "axis": null}, "y": {"field": "i", "type": "quantitative", "scale": {"domain": [-10.36, 14.492], "nice": false, "zero": false}, "axis": null}, "order": {"value": null}}},
        {"data": {"name": "labels"}, "transform": [{"filter": "datum.id == 'xt'"}], "mark": {"type": "text", "font": "Liberation Sans", "fontSize": 11, "color": "#333333", "baseline": "middle", "yOffset": 26.5}, "encoding": {"x": {"datum": 11, "type": "quantitative", "scale": {"domain": [-3.405, 23.405], "nice": false, "zero": false}, "axis": null}, "y": {"datum": -6, "type": "quantitative", "scale": {"domain": [-10.36, 14.492], "nice": false, "zero": false}, "axis": null}, "text": {"field": "txt"}}},
        {"data": {"name": "labels"}, "transform": [{"filter": "datum.id == 'yt'"}], "mark": {"type": "text", "font": "Liberation Sans", "fontSize": 11, "color": "#333333", "baseline": "middle", "angle": 270, "xOffset": -35}, "encoding": {"x": {"datum": 0, "type": "quantitative", "scale": {"domain": [-3.405, 23.405], "nice": false, "zero": false}, "axis": null}, "y": {"datum": 3, "type": "quantitative", "scale": {"domain": [-10.36, 14.492], "nice": false, "zero": false}, "axis": null}, "text": {"field": "txt"}}}
      ]
    },
    {
      "width": 534, "height": 346,
      "layer": [
        {"data": {"name": "frames"}, "transform": [{"filter": "datum.c == 'd175'"}], "mark": {"type": "rect", "filled": false, "stroke": "#6e6e6e", "strokeWidth": 1.2}, "encoding": {"x": {"field": "x0", "type": "quantitative", "scale": {"domain": [-2.618, 17.643], "nice": false, "zero": false}, "axis": null}, "x2": {"field": "x1"}, "y": {"field": "y0", "type": "quantitative", "scale": {"domain": [-6.12, 8.066], "nice": false, "zero": false}, "axis": null}, "y2": {"field": "y1"}}},
        {"data": {"name": "ticks"}, "transform": [{"filter": "datum.c == 'd175' && datum.ax == 'x'"}], "mark": {"type": "rule", "stroke": "#6e6e6e", "y2Offset": -5}, "encoding": {"x": {"field": "v", "type": "quantitative", "scale": {"domain": [-2.618, 17.643], "nice": false, "zero": false}, "axis": null}, "y": {"datum": -4, "type": "quantitative", "scale": {"domain": [-6.12, 8.066], "nice": false, "zero": false}, "axis": null}, "y2": {"datum": -4}}},
        {"data": {"name": "ticks"}, "transform": [{"filter": "datum.c == 'd175' && datum.ax == 'x'"}], "mark": {"type": "rule", "stroke": "#6e6e6e", "y2Offset": 5}, "encoding": {"x": {"field": "v", "type": "quantitative", "scale": {"domain": [-2.618, 17.643], "nice": false, "zero": false}, "axis": null}, "y": {"datum": 7, "type": "quantitative", "scale": {"domain": [-6.12, 8.066], "nice": false, "zero": false}, "axis": null}, "y2": {"datum": 7}}},
        {"data": {"name": "ticks"}, "transform": [{"filter": "datum.c == 'd175' && datum.ax == 'y'"}], "mark": {"type": "rule", "stroke": "#6e6e6e", "x2Offset": 5}, "encoding": {"y": {"field": "v", "type": "quantitative", "scale": {"domain": [-6.12, 8.066], "nice": false, "zero": false}, "axis": null}, "x": {"datum": 0, "type": "quantitative", "scale": {"domain": [-2.618, 17.643], "nice": false, "zero": false}, "axis": null}, "x2": {"datum": 0}}},
        {"data": {"name": "ticks"}, "transform": [{"filter": "datum.c == 'd175' && datum.ax == 'y'"}], "mark": {"type": "rule", "stroke": "#6e6e6e", "x2Offset": -5}, "encoding": {"y": {"field": "v", "type": "quantitative", "scale": {"domain": [-6.12, 8.066], "nice": false, "zero": false}, "axis": null}, "x": {"datum": 16, "type": "quantitative", "scale": {"domain": [-2.618, 17.643], "nice": false, "zero": false}, "axis": null}, "x2": {"datum": 16}}},
        {"data": {"name": "ticks"}, "transform": [{"filter": "datum.c == 'd175' && datum.ax == 'x'"}], "mark": {"type": "text", "font": "Liberation Sans", "fontSize": 10, "color": "#333333", "baseline": "middle", "yOffset": 11}, "encoding": {"x": {"field": "v", "type": "quantitative", "scale": {"domain": [-2.618, 17.643], "nice": false, "zero": false}, "axis": null}, "y": {"datum": -4, "type": "quantitative", "scale": {"domain": [-6.12, 8.066], "nice": false, "zero": false}, "axis": null}, "text": {"field": "v", "type": "quantitative", "format": "~g"}}},
        {"data": {"name": "ticks"}, "transform": [{"filter": "datum.c == 'd175' && datum.ax == 'y'"}], "mark": {"type": "text", "font": "Liberation Sans", "fontSize": 10, "color": "#333333", "baseline": "middle", "align": "right", "xOffset": -6}, "encoding": {"y": {"field": "v", "type": "quantitative", "scale": {"domain": [-6.12, 8.066], "nice": false, "zero": false}, "axis": null}, "x": {"datum": 0, "type": "quantitative", "scale": {"domain": [-2.618, 17.643], "nice": false, "zero": false}, "axis": null}, "text": {"field": "v", "type": "quantitative", "format": "~g"}}},
        {"data": {"name": "wave"}, "transform": [{"filter": "datum.c == 'd175'"}], "mark": {"type": "line", "color": "#2a84c6", "strokeWidth": 1.3}, "encoding": {"x": {"field": "t", "type": "quantitative", "scale": {"domain": [-2.618, 17.643], "nice": false, "zero": false}, "axis": null}, "y": {"field": "i", "type": "quantitative", "scale": {"domain": [-6.12, 8.066], "nice": false, "zero": false}, "axis": null}, "order": {"value": null}}},
        {"data": {"name": "labels"}, "transform": [{"filter": "datum.id == 'xt'"}], "mark": {"type": "text", "font": "Liberation Sans", "fontSize": 11, "color": "#333333", "baseline": "middle", "yOffset": 26.5}, "encoding": {"x": {"datum": 8, "type": "quantitative", "scale": {"domain": [-2.618, 17.643], "nice": false, "zero": false}, "axis": null}, "y": {"datum": -4, "type": "quantitative", "scale": {"domain": [-6.12, 8.066], "nice": false, "zero": false}, "axis": null}, "text": {"field": "txt"}}},
        {"data": {"name": "labels"}, "transform": [{"filter": "datum.id == 'yt'"}], "mark": {"type": "text", "font": "Liberation Sans", "fontSize": 11, "color": "#333333", "baseline": "middle", "angle": 270, "xOffset": -21}, "encoding": {"x": {"datum": 0, "type": "quantitative", "scale": {"domain": [-2.618, 17.643], "nice": false, "zero": false}, "axis": null}, "y": {"datum": 1.5, "type": "quantitative", "scale": {"domain": [-6.12, 8.066], "nice": false, "zero": false}, "axis": null}, "text": {"field": "txt"}}}
      ]
    }
  ]
}
